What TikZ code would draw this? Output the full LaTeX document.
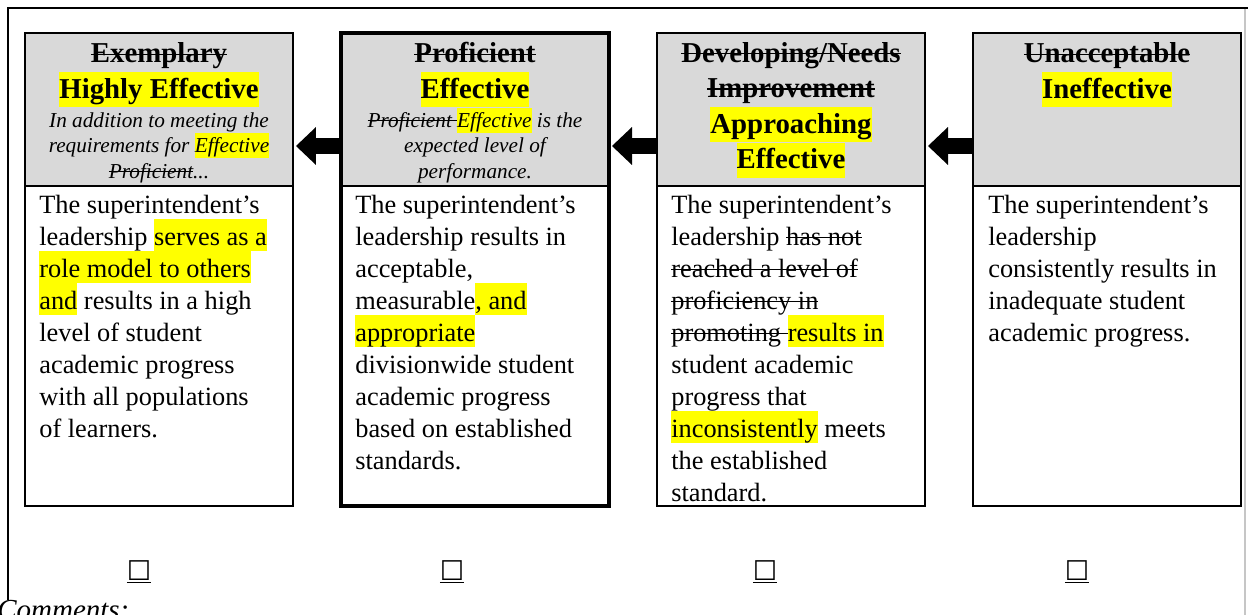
\documentclass[tikz,border=0pt]{standalone}
\usepackage{fontspec}
\setmainfont{Liberation Serif}
\newfontfamily\symfont{DejaVu Sans}
\usepackage{xcolor}
\usepackage{tikz}
\usetikzlibrary{positioning}
\usetikzlibrary{arrows.meta}

\newdimen\pxu \pxu=0.02cm
\definecolor{hdgray}{RGB}{217,217,217}
\definecolor{hlyellow}{RGB}{255,255,0}
\newsavebox\strkbox
\newcommand{\strk}[1]{\sbox\strkbox{#1}\rlap{\usebox\strkbox}\rule[0.27em]{\wd\strkbox}{0.85pt}}
\newcommand{\hlb}[1]{{\setlength{\fboxsep}{0pt}\colorbox{hlyellow}{\rule[-3.4pt]{0pt}{18pt}#1}}}
\newcommand{\hlh}[1]{{\setlength{\fboxsep}{0pt}\colorbox{hlyellow}{\rule[-5.1pt]{0pt}{20pt}#1}}}
\newcommand{\hli}[1]{{\setlength{\fboxsep}{0pt}\colorbox{hlyellow}{\rule[-3.3pt]{0pt}{14.4pt}#1}}}

\begin{document}
\begin{tikzpicture}[x=0.02cm, y=-0.02cm,
    hdbox/.style={draw, line width=2\pxu, fill=hdgray, minimum width=268\pxu, minimum height=153\pxu, outer sep=0pt, inner sep=0pt},
    bdbox/.style={draw, line width=2\pxu, fill=white, minimum width=268\pxu, minimum height=320\pxu, outer sep=0pt, inner sep=0pt},
    ttl/.style={font=\fontsize{16.4}{20.3}\selectfont\bfseries, align=center, inner sep=0pt, anchor=base},
    dsc/.style={font=\fontsize{12.1}{14.5}\selectfont\itshape, align=center, inner sep=0pt, anchor=base},
    txt/.style={font=\fontsize{15}{18.2}\selectfont, align=left, inner sep=0pt, anchor=base west},
    chk/.style={font=\fontsize{15.5}{18}\selectfont\symfont, inner sep=0pt, anchor=base},
    flow/.style={line width=0.34cm, -{Triangle[width=0.76cm, length=0.4cm, line width=0pt]}, shorten >=0.06cm}]
    \useasboundingbox (0,0) rectangle (1248,615);

    % page frame
    \draw[line width=2\pxu] (1248,8) -- (8,8) -- (8,600);
    \draw[gray!45, line width=1.5\pxu] (1245,9) -- (1245,615);

    \node[hdbox, anchor=north west] (hd1) at (25,33) {};
    \node[hdbox] (hd2) [right=48\pxu of hd1] {};
    \node[hdbox] (hd3) [right=48\pxu of hd2] {};
    \node[hdbox] (hd4) [right=48\pxu of hd3] {};
    \node[bdbox] (bd1) [below=0pt of hd1] {};
    \node[bdbox] (bd2) [below=0pt of hd2] {};
    \node[bdbox] (bd3) [below=0pt of hd3] {};
    \node[bdbox] (bd4) [below=0pt of hd4] {};
    \draw[line width=4.5\pxu] (hd2.north west) rectangle (bd2.south east);

    % base = last line
    \node[ttl] (t1) at ([yshift=-65.5\pxu]hd1.north) {\strk{Exemplary}\\\hlh{Highly Effective}};
    \node[ttl] (t2) at ([yshift=-65.5\pxu]hd2.north) {\strk{Proficient}\\\hlh{Effective}};
    \node[ttl] (t3) at ([yshift=-136\pxu]hd3.north) {\strk{Developing/Needs}\\\strk{Improvement}\\\hlh{Approaching}\\\hlh{Effective}};
    \node[ttl] (t4) at ([yshift=-65.5\pxu]hd4.north) {\strk{Unacceptable}\\\hlh{Ineffective}};

    \node[dsc] (s1) at ([yshift=-145\pxu]hd1.north) {In addition to meeting the\\requirements for \hli{Effective}\\\strk{Proficient}...};
    \node[dsc] (s2) at ([yshift=-145\pxu]hd2.north) {\strk{Proficient }\hli{Effective} is the\\expected level of\\performance.};

    \node[txt] (b1) at ([xshift=14\pxu, yshift=-251\pxu]bd1.north west)
      {The superintendent’s\\leadership \hlb{serves as a}\\\hlb{role model to others}\\\hlb{and} results in a high\\level of student\\academic progress\\with all populations\\of learners.};
    \node[txt] (b2) at ([xshift=14\pxu, yshift=-283\pxu]bd2.north west)
      {The superintendent’s\\leadership results in\\acceptable,\\measurable\hlb{, and}\\\hlb{appropriate}\\divisionwide student\\academic progress\\based on established\\standards.};
    \node[txt] (b3) at ([xshift=14\pxu, yshift=-315\pxu]bd3.north west)
      {The superintendent’s\\leadership \strk{has not}\\\strk{reached a level of}\\\strk{proficiency in}\\\strk{promoting }\hlb{results in}\\student academic\\progress that\\\hlb{inconsistently} meets\\the established\\standard.};
    \node[txt] (b4) at ([xshift=15\pxu, yshift=-155\pxu]bd4.north west)
      {The superintendent’s\\leadership\\consistently results in\\inadequate student\\academic progress.};

    \draw[flow] ([yshift=-36.5\pxu]hd2.west) -- ([yshift=-36.5\pxu]hd1.east);
    \draw[flow] ([yshift=-36.5\pxu]hd3.west) -- ([yshift=-36.5\pxu]hd2.east);
    \draw[flow] ([yshift=-36.5\pxu]hd4.west) -- ([yshift=-36.5\pxu]hd3.east);

    \node[chk] (c1) at (139,580) {\underline{☐}};
    \node[chk] (c2) at (452,580) {\underline{☐}};
    \node[chk] (c3) at (765,580) {\underline{☐}};
    \node[chk] (c4) at (1077,580) {\underline{☐}};

    \node[font=\fontsize{16.5}{19}\selectfont\itshape, anchor=base west, inner sep=0pt] (cm) at (-3,619) {Comments:};
\end{tikzpicture}
\end{document}
